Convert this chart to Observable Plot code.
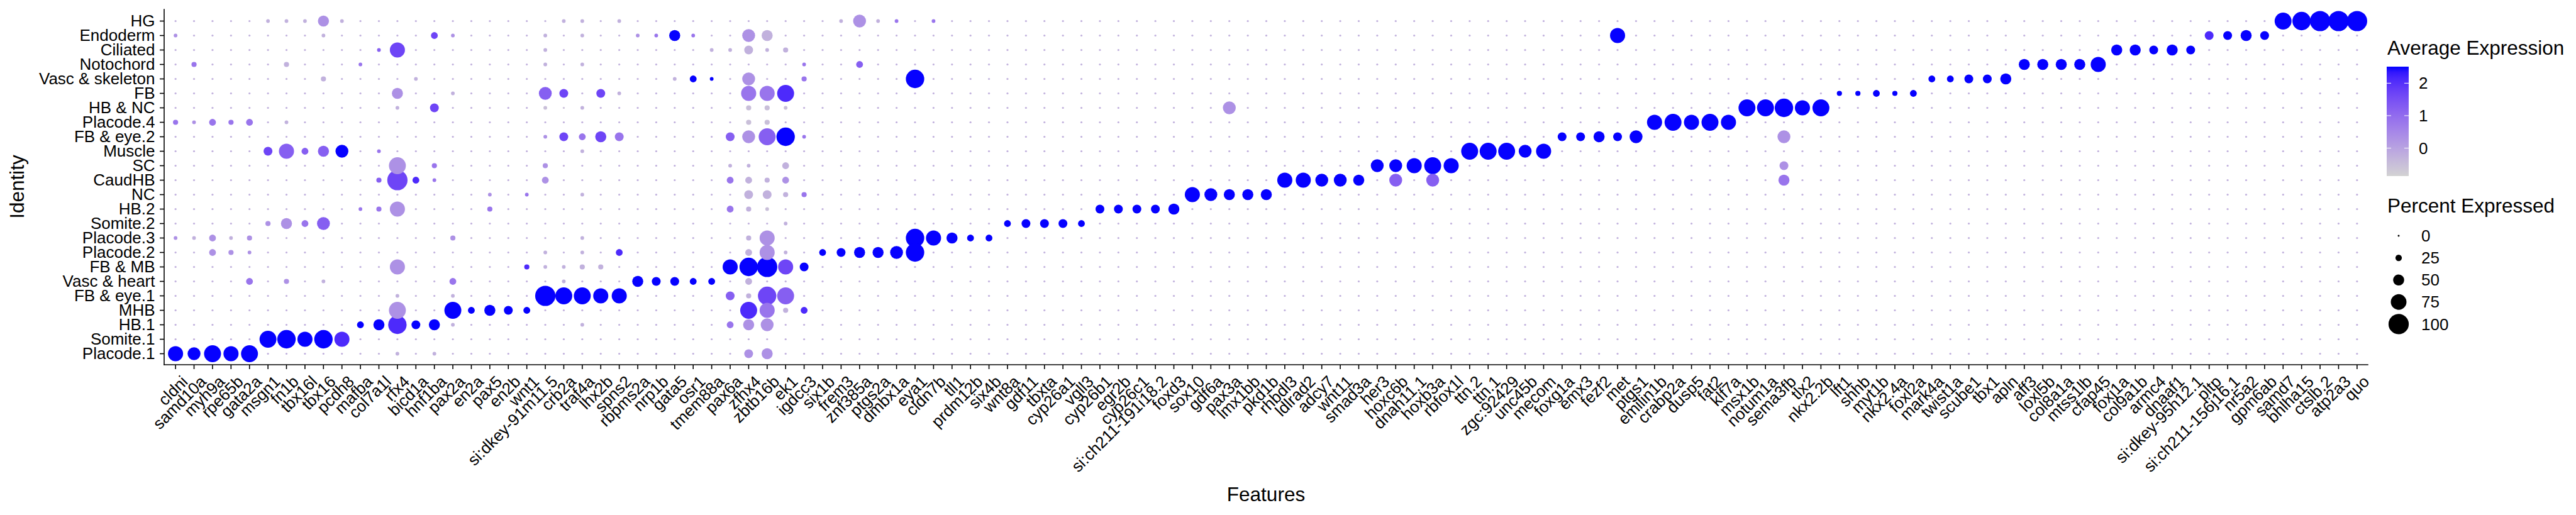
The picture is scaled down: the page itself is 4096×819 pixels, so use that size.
<!DOCTYPE html>
<html><head><meta charset="utf-8">
<script src="https://cdn.jsdelivr.net/npm/d3@7"></script>
<script src="https://cdn.jsdelivr.net/npm/@observablehq/plot@0.6"></script>
<style>
html,body{margin:0;padding:0;background:#fff;}
#chart{width:4096px;height:819px;overflow:hidden;}
svg{font-family:"Liberation Sans",Arial,Helvetica,sans-serif;}
</style></head><body><div id="chart"></div>
<script>
// Identities, top to bottom
const identities = ["HG","Endoderm","Ciliated","Notochord","Vasc & skeleton","FB","HB & NC","Placode.4","FB & eye.2","Muscle","SC","CaudHB","NC","HB.2","Somite.2","Placode.3","Placode.2","FB & MB","Vasc & heart","FB & eye.1","MHB","HB.1","Somite.1","Placode.1"];

const genes = ["cldni","samd10a","myh9a","rpe65b","gata2a","msgn1","fn1b","tbx16l","tbx16","pcdh8",
"mafba","col7a1l","rfx4","bicd1a","hnf1ba","pax2a","en2a","pax5","en2b","wnt1",
"si:dkey-91m11.5","crb2a","traf4a","lhx2b","spns2","rbpms2a","nrp1b","gata5","osr1","tmem88a",
"pax6a","zfhx4","zbtb16b","ek1","igdcc3","six1b","frem3","znf385a","ptgs2a","dmbx1a",
"eya1","cldn7b","tll1","prdm12b","six4b","wnt8a","gdf11","tbxta","cyp26a1","vgll3",
"cyp26b1","egr2b","cyp26c1","si:ch211-191i18.2","foxd3","sox10","gdf6a","pax3a","lmx1bb","pkd1b",
"rhbdl3","ldlrad2","adcy7","wnt11","smad3a","her3","hoxc6b","dnah11.1","hoxb3a","rbfox1l",
"ttn.2","ttn.1","zgc:92429","unc45b","mecom","foxg1a","emx3","fezf2","met","ptgs1",
"emilin1b","crabp2a","dusp5","fat2","klf7a","msx1b","notum1a","sema3fb","tlx2","nkx2.2b",
"lft1","shhb","myt1b","nkx2.4a","foxl2a","mark4a","twist1a","scube1","tbx1","apln",
"aff3","loxl5b","col8a1a","mtss1lb","cfap45","foxj1a","col9a1b","armc4","dnaaf1","si:dkey-95h12.1",
"pltp","si:ch211-156j16.1","nr5a2","gpm6ab","samd7","bhlha15","ctslb.2","atp2a3","quo"];

// Percent expressed, coded per cell (0 ~ 1%, 1..9 = tens, X = 100), one string per identity
const pctLevels = {"0":1,"1":10,"2":18,"3":27,"4":38,"5":50,"6":60,"7":72,"8":82,"9":90,"X":100};
// Average expression, coded per cell
const avgLevels = [-0.86,-0.69,-0.5,-0.25,0.32,0.83,1.23,1.67,2.1,2.5];

const pctCodes = [
"00000 11151 00000 00000 01101 00000 00000 01611 01000 00000 00000 00000 00000 00000 00000 00000 00000 00000 00000 00000 00000 00000 00008 9XXX",
"10000 00010 00003 10000 10100 11510 06500 00000 00000 00000 00000 00000 00000 00000 00000 00070 00000 00000 00000 00000 00000 00000 44540 0000",
"00000 00000 01700 00000 10000 00001 14120 00000 00000 00000 00000 00000 00000 00000 00000 00000 00000 00000 00000 00000 00000 55454 00000 0000",
"02000 02000 10000 00000 10100 00000 00001 00300 00000 00000 00000 00000 00000 00000 00000 00000 00000 00000 00000 00000 55557 00000 00000 0000",
"00000 00020 00010 00000 00000 00131 06002 00000 90000 00000 00000 00000 00000 00000 00000 00000 00000 00000 00000 33445 00000 00000 00000 0000",
"00000 00000 00500 10000 64041 00000 07780 00000 00000 00000 00000 00000 00000 00000 00000 00000 00000 00000 22323 00000 00000 00000 00000 0000",
"00000 00000 00104 00000 10100 00000 02210 00000 00000 00000 00000 00600 00000 00000 00000 00000 00000 88978 00000 00000 00000 00000 00000 0000",
"21323 01000 00000 00000 00000 00000 02200 00000 00000 00000 00000 00000 00000 00000 00000 00000 78787 00000 00000 00000 00000 00000 00000 0000",
"00000 00000 00000 00000 14354 00000 46891 00000 00000 00000 00000 00000 00000 00000 00000 44546 00000 00600 00000 00000 00000 00000 00000 0000",
"00000 47356 01000 00000 00100 00000 00000 00000 00000 00000 00000 00000 00000 00000 88867 00000 00000 00000 00000 00000 00000 00000 00000 0000",
"00000 00000 00802 00000 20000 00000 11030 00000 00000 00000 00000 00000 00000 66787 00000 00000 00000 00400 00000 00000 00000 00000 00000 0000",
"00000 00000 02X31 00000 30000 00000 33230 00000 00000 00000 00000 00000 77665 06060 00000 00000 00000 00500 00000 00000 00000 00000 00000 0000",
"00000 00000 00000 00101 00100 00000 04422 00000 00000 00000 00000 76555 00000 00000 00000 00000 00000 00000 00000 00000 00000 00000 00000 0000",
"00000 00000 12700 00200 00000 00000 32100 00000 00000 00000 44445 00000 00000 00000 00000 00000 00000 00000 00000 00000 00000 00000 00000 0000",
"00000 25360 00000 00000 00000 00000 00010 00000 00000 34443 00000 00000 00000 00000 00000 00000 00000 00000 00000 00000 00000 00000 00000 0000",
"11312 00000 00000 20000 00100 00000 02700 00000 97533 00000 00000 00000 00000 00000 00000 00000 00000 00000 00000 00000 00000 00000 00000 0000",
"00321 00000 00000 00000 10103 00000 03710 34556 90000 00000 00000 00000 00000 00000 00000 00000 00000 00000 00000 00000 00000 00000 00000 0000",
"00000 00000 00700 00002 11220 00000 79X74 00000 00000 00000 00000 00000 00000 00000 00000 00000 00000 00000 00000 00000 00000 00000 00000 0000",
"00003 02010 00000 30000 01000 54433 03000 00000 00000 00000 00000 00000 00000 00000 00000 00000 00000 00000 00000 00000 00000 00000 00000 0000",
"00000 00000 00100 10000 X8877 00000 42980 00000 00000 00000 00000 00000 00000 00000 00000 00000 00000 00000 00000 00000 00000 00000 00000 0000",
"00000 00000 00800 83543 00000 00000 08723 00000 00000 00000 00000 00000 00000 00000 00000 00000 00000 00000 00000 00000 00000 00000 00000 0000",
"00000 00000 35945 10000 00100 00000 35600 00000 00000 00000 00000 00000 00000 00000 00000 00000 00000 00000 00000 00000 00000 00000 00000 0000",
"00000 89797 00000 00000 00000 00000 00000 00000 00000 00000 00000 00000 00000 00000 00000 00000 00000 00000 00000 00000 00000 00000 00000 0000",
"76878 00000 00101 00000 00000 00000 04500 00000 00000 00000 00000 00000 00000 00000 00000 00000 00000 00000 00000 00000 00000 00000 00000 0000"
];

const avgCodes = [
"33333 33343 33333 33333 33333 33333 33333 33435 35333 33333 33333 33333 33333 33333 33333 33333 33333 33333 33333 33333 33333 33333 33339 9999",
"43333 33333 33337 43333 33333 45953 34333 33333 33333 33333 33333 33333 33333 33333 33333 33393 33333 33333 33333 33333 33333 33333 89993 3333",
"33333 33333 36733 33333 33333 33333 33333 33333 33333 33333 33333 33333 33333 33333 33333 33333 33333 33333 33333 33333 33333 99999 33333 3333",
"35333 33333 53333 33333 33333 33333 33335 33633 33333 33333 33333 33333 33333 33333 33333 33333 33333 33333 33333 33333 99999 33333 33333 3333",
"33333 33333 33333 33333 33333 33399 34335 33333 93333 33333 33333 33333 33333 33333 33333 33333 33333 33333 33333 99999 33333 33333 33333 3333",
"33333 33333 33433 33333 67373 33333 35583 33333 33333 33333 33333 33333 33333 33333 33333 33333 33333 33333 99999 33333 33333 33333 33333 3333",
"33333 33333 33337 33333 22333 33333 32223 33333 33333 33333 33333 33433 33333 33333 33333 33333 33333 99999 33333 33333 33333 33333 33333 3333",
"54555 33333 33333 33333 33333 33333 32233 33333 33333 33333 33333 33333 33333 33333 33333 33333 99999 33333 33333 33333 33333 33333 33333 3333",
"33333 33333 33333 33333 47575 33333 64695 33333 33333 33333 33333 33333 33333 33333 33333 99999 33333 33433 33333 33333 33333 33333 33333 3333",
"33333 76669 35333 33333 33333 33333 33333 33333 33333 33333 33333 33333 33333 33333 99999 33333 33333 33333 33333 33333 33333 33333 33333 3333",
"33333 33333 33435 33333 43333 33333 33333 33333 33333 33333 33333 33333 33333 99999 33333 33333 33333 33433 33333 33333 33333 33333 33333 3333",
"33333 33333 36785 33333 43333 33333 53343 33333 33333 33333 33333 33333 99999 36363 33333 33333 33333 33533 33333 33333 33333 33333 33333 3333",
"33333 33333 33333 33435 33333 33333 33335 33333 33333 33333 33333 99999 33333 33333 33333 33333 33333 33333 33333 33333 33333 33333 33333 3333",
"33333 33333 55433 33533 33333 33333 53233 33333 33333 33333 99999 33333 33333 33333 33333 33333 33333 33333 33333 33333 33333 33333 33333 3333",
"33333 44563 33333 33333 33333 33333 33333 33333 33333 99999 33333 33333 33333 33333 33333 33333 33333 33333 33333 33333 33333 33333 33333 3333",
"43434 33333 33333 43333 33333 33333 33433 33333 99999 33333 33333 33333 33333 33333 33333 33333 33333 33333 33333 33333 33333 33333 33333 3333",
"33444 33333 33333 33333 33338 33333 33433 99999 93333 33333 33333 33333 33333 33333 33333 33333 33333 33333 33333 33333 33333 33333 33333 3333",
"33333 33333 33433 33338 33333 33333 99979 33333 33333 33333 33333 33333 33333 33333 33333 33333 33333 33333 33333 33333 33333 33333 33333 3333",
"33335 34333 33333 53333 33333 99999 33333 33333 33333 33333 33333 33333 33333 33333 33333 33333 33333 33333 33333 33333 33333 33333 33333 3333",
"33333 33333 33333 33333 99999 33333 63763 33333 33333 33333 33333 33333 33333 33333 33333 33333 33333 33333 33333 33333 33333 33333 33333 3333",
"33333 33333 33433 99999 33333 33333 38538 33333 33333 33333 33333 33333 33333 33333 33333 33333 33333 33333 33333 33333 33333 33333 33333 3333",
"33333 33333 99899 33333 33333 33333 54433 33333 33333 33333 33333 33333 33333 33333 33333 33333 33333 33333 33333 33333 33333 33333 33333 3333",
"33333 99998 33333 33333 33333 33333 33333 33333 33333 33333 33333 33333 33333 33333 33333 33333 33333 33333 33333 33333 33333 33333 33333 3333",
"99999 33333 33333 33333 33333 33333 34433 33333 33333 33333 33333 33333 33333 33333 33333 33333 33333 33333 33333 33333 33333 33333 33333 3333"
];

const colorTicks = [0, 1, 2];
const sizeTicks = [0, 25, 50, 75, 100];

// Build table
const data = [];
identities.forEach((id, i) => {
  const p = pctCodes[i].replace(/ /g, "");
  const a = avgCodes[i].replace(/ /g, "");
  if (p.length !== genes.length || a.length !== genes.length) throw new Error(`row ${i} ${id}: ${p.length}/${a.length}`);
  genes.forEach((g, j) => data.push({id, gene: g, pct: pctLevels[p[j]], avg: avgLevels[+a[j]]}));
});

const FONT = '"Liberation Sans",Arial,Helvetica,sans-serif';
const ML = 261, MR = 331, MT = 15, MB = 239, W = 4096, H = 819;
const chart = Plot.plot({
  width: W, height: H,
  marginLeft: ML, marginRight: MR, marginTop: MT, marginBottom: MB,
  style: {fontFamily: FONT, fontSize: "26px", color: "black", background: "white", overflow: "visible"},
  x: {type: "point", domain: genes, padding: 0.6, label: null},
  y: {type: "point", domain: identities, padding: 0.6, label: null},
  r: {type: "linear", domain: [0, 100], range: [1.47, 16.1]},
  color: {type: "linear", domain: [-0.86, 2.51], range: ["lightgrey", "blue"], interpolate: d3.interpolateLab},
  marks: [
    Plot.dot(data, {x: "gene", y: "id", r: "pct", fill: "avg", stroke: null}),
    // tick marks only
    Plot.axisY({tickSize: 7, strokeWidth: 1.6, tickFormat: () => "", label: null}),
    Plot.axisX({tickSize: 7, strokeWidth: 1.6, tickFormat: () => "", label: null}),
    // tick labels
    Plot.text(identities, {y: d => d, frameAnchor: "left", textAnchor: "end", dx: -15, fontSize: 26, fill: "black"}),
    Plot.text(genes, {x: d => d, frameAnchor: "bottom", textAnchor: "end", lineAnchor: "top", rotate: -45, dx: 8, dy: 15, fontSize: 26, fill: "black"})
  ]
});
document.getElementById("chart").appendChild(chart);

const svg = d3.select(chart);
// axis lines
svg.append("line").attr("x1", ML).attr("x2", W - MR).attr("y1", H - MB).attr("y2", H - MB)
  .attr("stroke", "black").attr("stroke-width", 1.6).attr("stroke-linecap", "square");
svg.append("line").attr("x1", ML).attr("x2", ML).attr("y1", MT).attr("y2", H - MB)
  .attr("stroke", "black").attr("stroke-width", 1.6).attr("stroke-linecap", "square");

// Titles
svg.append("text").attr("transform", "translate(38,297) rotate(-90)")
  .attr("text-anchor", "middle").attr("font-size", 31.5).attr("font-family", FONT).text("Identity");
svg.append("text").attr("x", 2013).attr("y", 797)
  .attr("text-anchor", "middle").attr("font-size", 31.5).attr("font-family", FONT).text("Features");

// Legends built from the plot's own scales
const colorScale = chart.scale("color");
const rScale = chart.scale("r");
const [cmin, cmax] = colorScale.domain;
const barX = 3795, barW = 35, barTop = 106, barBot = 280;
const vy = v => barBot - (v - cmin) / (cmax - cmin) * (barBot - barTop);
svg.append("text").attr("x", 3796).attr("y", 87).attr("text-anchor", "start")
  .attr("font-size", 31.5).attr("font-family", FONT).text("Average Expression");
const grad = svg.append("defs").append("linearGradient").attr("id", "cbar")
  .attr("x1", 0).attr("y1", 1).attr("x2", 0).attr("y2", 0);
d3.range(0, 1.0001, 0.05).forEach(t => {
  grad.append("stop").attr("offset", t).attr("stop-color", colorScale.apply(cmin + t * (cmax - cmin)));
});
svg.append("rect").attr("x", barX).attr("y", barTop).attr("width", barW).attr("height", barBot - barTop).attr("fill", "url(#cbar)");
colorTicks.forEach(v => {
  const y = vy(v);
  svg.append("line").attr("x1", barX).attr("x2", barX + 7).attr("y1", y).attr("y2", y).attr("stroke", "white").attr("stroke-width", 1);
  svg.append("line").attr("x1", barX + barW - 7).attr("x2", barX + barW).attr("y1", y).attr("y2", y).attr("stroke", "white").attr("stroke-width", 1);
  svg.append("text").attr("x", 3846).attr("y", y).attr("dy", "0.35em").attr("text-anchor", "start")
    .attr("font-size", 26).attr("font-family", FONT).text(v);
});
svg.append("text").attr("x", 3796).attr("y", 338).attr("text-anchor", "start")
  .attr("font-size", 31.5).attr("font-family", FONT).text("Percent Expressed");
sizeTicks.forEach((v, i) => {
  const y = 375 + i * 35.1;
  svg.append("circle").attr("cx", 3814).attr("cy", y).attr("r", rScale.apply(v)).attr("fill", "black");
  svg.append("text").attr("x", 3850).attr("y", y).attr("dy", "0.35em").attr("text-anchor", "start")
    .attr("font-size", 26).attr("font-family", FONT).text(v);
});
</script></body></html>
